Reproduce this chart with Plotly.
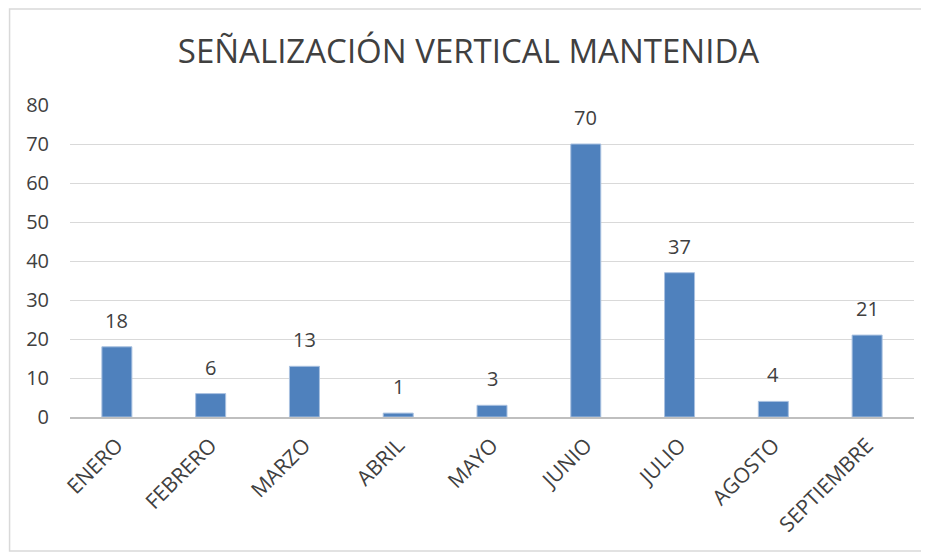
import plotly.graph_objects as go

meses = ["ENERO", "FEBRERO", "MARZO", "ABRIL", "MAYO", "JUNIO", "JULIO", "AGOSTO", "SEPTIEMBRE"]
mantenidas = [18, 6, 13, 1, 3, 70, 37, 4, 21]
y_ticks = [0, 10, 20, 30, 40, 50, 60, 70, 80]

FONT = "Open Sans, Noto Sans, sans-serif"
TXT = "#404040"

# página con margen de 8 px en el body
W, H = 921, 544
L, R, T, B = 61.5, 14.5, 97, 135
PW, PH = W - L - R, H - T - B

fig = go.Figure()
fig.add_trace(go.Bar(
    x=meses,
    y=mantenidas,
    width=0.32,
    marker=dict(color="#4F81BD", line=dict(color="#A9C1E0", width=1)),
    hovertemplate="%{x}: %{y}<extra></extra>",
))

for m, v in zip(meses, mantenidas):
    fig.add_annotation(x=m, y=v, text=str(v), showarrow=False, yanchor="bottom", yshift=11,
                       font=dict(size=20, color=TXT, family=FONT))

fig.update_layout(
    width=W,
    height=H,
    paper_bgcolor="white",
    plot_bgcolor="white",
    font=dict(family=FONT, color=TXT),
    margin=dict(l=L, r=R, t=T, b=B),
    title=dict(text="SEÑALIZACIÓN VERTICAL MANTENIDA", x=0.5, xanchor="center", y=1 - 43 / H, yanchor="middle",
               font=dict(size=33, color=TXT, family=FONT)),
    xaxis=dict(tickangle=-45, tickfont=dict(size=21, color=TXT), showgrid=False,
               showline=True, linecolor="#BFBFBF", linewidth=1.5, ticks="", ticklabelstandoff=6),
    yaxis=dict(range=[0, 80], tickvals=y_ticks, tickfont=dict(size=20, color=TXT),
               gridcolor="#D9D9D9", gridwidth=1, zeroline=False, ticks="", ticklabelstandoff=20),
    showlegend=False,
    shapes=[dict(type="rect", xref="paper", yref="paper",
                 x0=-(L - 1) / PW, x1=1 + (R - 1) / PW, y0=-(B - 1) / PH, y1=1 + (T - 1) / PH,
                 line=dict(color="#D9D9D9", width=1.5), fillcolor="rgba(0,0,0,0)", layer="below")],
)

fig.write_html("out.html")
